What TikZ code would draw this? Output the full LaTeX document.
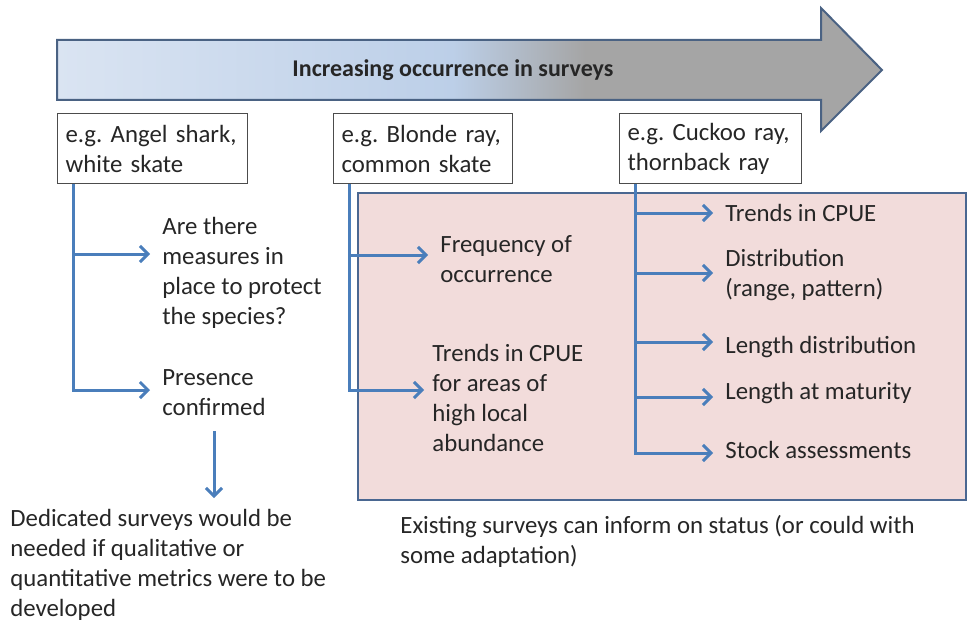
\documentclass[tikz,border=0pt]{standalone}
\usepackage{fontspec}
\setmainfont{Carlito}
\usetikzlibrary{arrows.meta,calc}

\definecolor{flowblue}{HTML}{4A7EBB}
\definecolor{panelpink}{HTML}{F2DCDB}
\definecolor{paneledge}{HTML}{4A6791}
\definecolor{bandedge}{HTML}{4A6283}
\definecolor{bandlight}{HTML}{DAE4F2}
\definecolor{bandblue}{HTML}{BCCFE8}
\definecolor{bandgray}{HTML}{A5A5A5}
\definecolor{inktext}{HTML}{262626}

% light blue fading into grey along the band
\pgfdeclarehorizontalshading{bandshade}{100bp}{color(0bp)=(bandlight); color(25bp)=(bandlight);
  color(49bp)=(bandblue); color(57bp)=(bandgray); color(100bp)=(bandgray)}

\tikzset{
  txt/.style={font=\fontsize{12.4}{15}\selectfont, text=inktext, align=left, anchor=west, inner sep=0pt},
  species/.style={draw=black!70, line width=0.6pt, fill=white, anchor=north west, minimum height=35pt,
    inner xsep=4pt, font=\fontsize{12.4}{15}\selectfont, text=inktext, align=left},
  trunk/.style={draw=flowblue, line width=1.5pt},
  flow/.style={draw=flowblue, line width=1.5pt, -{Straight Barb[length=4pt,width=8pt]}, shorten >=6pt},
}

\begin{document}
\begin{tikzpicture}[x=0.5pt, y=-0.5pt]
    \useasboundingbox (0,0) rectangle (969,631);
    % Big arrow across the top
    \path[shading=bandshade, draw=bandedge, line width=1pt]
        (57,40) -- (821,40) -- (821,8) -- (882,70) -- (821,131) -- (821,100) -- (57,100) -- cycle;
    \node[font=\bfseries\fontsize{12}{14}\selectfont, text=inktext] (band) at (453,70) {Increasing occurrence in surveys};
    % Pink panel for the surveyed species
    \draw[fill=panelpink, draw=paneledge, line width=1pt] (358,193) rectangle (966,500);
    % Species boxes
    \node[species, text width=87pt] (sp1) at (57,113) {e.g.\ Angel shark,\\white skate};
    \node[species, text width=81.5pt] (sp2) at (333,113) {e.g.\ Blonde ray,\\common skate};
    \node[species, text width=83pt] (sp3) at (619,113) {e.g.\ Cuckoo ray,\\thornback ray};
    % Trunk points below the boxes
    \coordinate (s1) at ($(sp1.south west)+(16,0)$);
    \coordinate (s2) at ($(sp2.south west)+(16,0)$);
    \coordinate (s3) at ($(sp3.south west)+(16,0)$);
    % Left column
    \node[txt] (q1) at (162,273) {Are there\\measures in\\place to protect\\the species?};
    \node[txt] (pc) at (162,393) {Presence\\confirmed};
    % Middle column
    \node[txt] (fq) at (440,259) {Frequency of\\occurrence};
    \node[txt] (tr) at (432,398) {Trends in CPUE\\for areas of\\high local\\abundance};
    % Right column
    \node[txt] (r1) at (725,213) {Trends in CPUE};
    \node[txt] (r2) at (725,275) {Distribution\\(range, pattern)};
    \node[txt] (r3) at (725,347) {Length distribution};
    \node[txt] (r4) at (725,393) {Length at maturity};
    \node[txt] (r5) at (725,450) {Stock assessments};
    % Notes at the bottom
    \node[txt, anchor=north west] (ded) at (10,509) {Dedicated surveys would be\\needed if qualitative or\\quantitative metrics were to be\\developed};
    \node[txt, anchor=north west] (ex) at (400,515) {Existing surveys can inform on status (or could with\\some adaptation)};
    % Connectors, left
    \draw[flow] (s1) |- (q1.west |- 0,254);
    \draw[flow] (s1) |- (pc.west |- 0,390);
    \draw[flow, shorten >=5.5pt] ($(pc.south)+(0,15)$) -- (pc.south |- ded.north);
    % Connectors, middle
    \draw[flow] (s2) |- (fq.west |- 0,255);
    \draw[flow, shorten >=4pt] (s2) |- (tr.west |- 0,390);
    % Connectors, right
    \draw[flow] (s3) |- (r1.west |- 0,213);
    \draw[flow] (s3) |- (r2.west |- 0,273);
    \draw[flow] (s3) |- (r3.west |- 0,342);
    \draw[flow] (s3) |- (r4.west |- 0,397);
    \draw[flow] (s3) |- (r5.west |- 0,453);
\end{tikzpicture}
\end{document}
